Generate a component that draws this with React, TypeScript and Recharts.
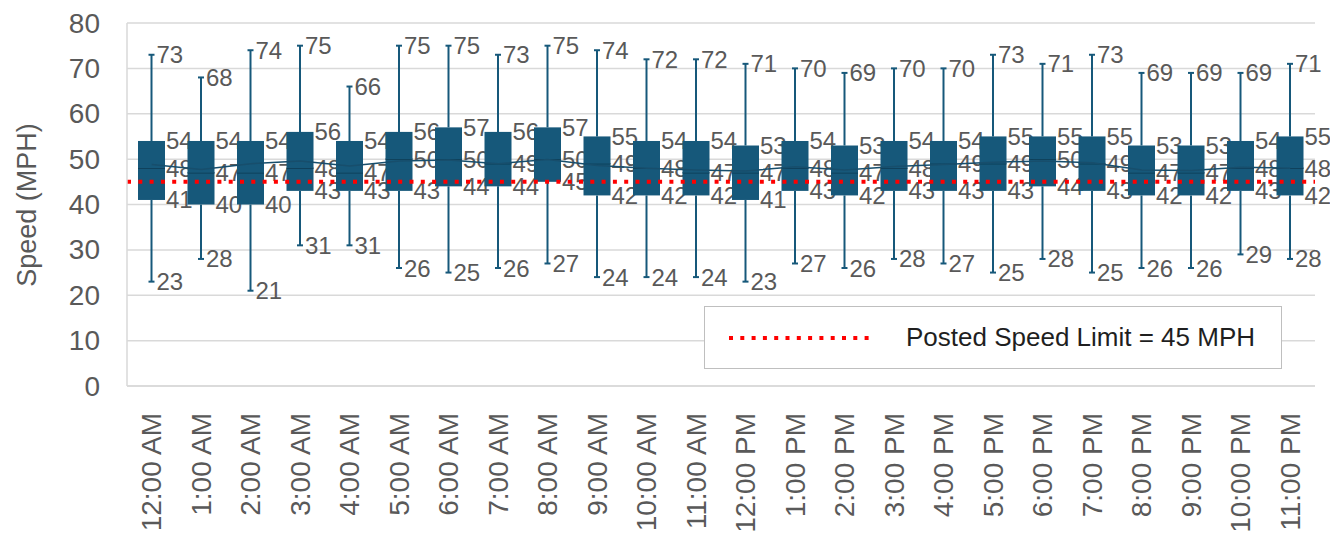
import {
  Bar,
  CartesianGrid,
  ComposedChart,
  Line,
  ReferenceLine,
  XAxis,
  YAxis,
} from 'recharts'

const hours = [
  '12:00 AM', '1:00 AM', '2:00 AM', '3:00 AM', '4:00 AM', '5:00 AM',
  '6:00 AM', '7:00 AM', '8:00 AM', '9:00 AM', '10:00 AM', '11:00 AM',
  '12:00 PM', '1:00 PM', '2:00 PM', '3:00 PM', '4:00 PM', '5:00 PM',
  '6:00 PM', '7:00 PM', '8:00 PM', '9:00 PM', '10:00 PM', '11:00 PM',
]
const minSpeed = [23, 28, 21, 31, 31, 26, 25, 26, 27, 24, 24, 24, 23, 27, 26, 28, 27, 25, 28, 25, 26, 26, 29, 28]
const q1Speed = [41, 40, 40, 43, 43, 43, 44, 44, 45, 42, 42, 42, 41, 43, 42, 43, 43, 43, 44, 43, 42, 42, 43, 42]
const medianSpeed = [48, 47, 47, 48, 47, 50, 50, 49, 50, 49, 48, 47, 47, 48, 47, 48, 49, 49, 50, 49, 47, 47, 48, 48]
const q3Speed = [54, 54, 54, 56, 54, 56, 57, 56, 57, 55, 54, 54, 53, 54, 53, 54, 54, 55, 55, 55, 53, 53, 54, 55]
const maxSpeed = [73, 68, 74, 75, 66, 75, 75, 73, 75, 74, 72, 72, 71, 70, 69, 70, 70, 73, 71, 73, 69, 69, 69, 71]
// mean line
const meanSpeed = [48.8, 47.7, 49.0, 49.6, 48.5, 49.6, 49.8, 49.0, 49.9, 48.6, 48.0, 47.6, 47.4, 48.3, 47.6, 48.4, 48.8, 49.3, 49.6, 49.2, 47.6, 47.5, 48.2, 48.0]
const speedLimit = 45
const yTicks = [0, 10, 20, 30, 40, 50, 60, 70, 80]

const data = hours.map((hour, i) => ({
  hour,
  min: minSpeed[i],
  q1: q1Speed[i],
  median: medianSpeed[i],
  q3: q3Speed[i],
  max: maxSpeed[i],
  mean: meanSpeed[i],
  base: minSpeed[i],
  lowWhisker: q1Speed[i] - minSpeed[i],
  boxLow: medianSpeed[i] - q1Speed[i],
  boxHigh: q3Speed[i] - medianSpeed[i],
  highWhisker: maxSpeed[i] - q3Speed[i],
}))

const FONT = '"Liberation Sans", Arial, sans-serif'
const BOX = '#16587a'
const MEDIAN = '#0c3a52'
const GREY = '#595959'
const LIMIT = '#ff0000'

function ValueText({ x, y, value }: { x: number; y: number; value: number }) {
  return (
    <text x={x} y={y} dominantBaseline="central" fontFamily={FONT} fontSize={24} fill={GREY}>
      {value}
    </text>
  )
}

function LowWhisker(props: any) {
  const { x, y, width, height, payload } = props
  const cx = x + width / 2
  return (
    <g>
      <line x1={cx} y1={y} x2={cx} y2={y + height} stroke={BOX} strokeWidth={2} />
      <line x1={cx - 3} y1={y + height} x2={cx + 3} y2={y + height} stroke={BOX} strokeWidth={2} />
      <ValueText x={cx + 5} y={y + height} value={payload.min} />
    </g>
  )
}

function HighWhisker(props: any) {
  const { x, y, width, height, payload } = props
  const cx = x + width / 2
  return (
    <g>
      <line x1={cx} y1={y} x2={cx} y2={y + height} stroke={BOX} strokeWidth={2} />
      <line x1={cx - 3} y1={y} x2={cx + 3} y2={y} stroke={BOX} strokeWidth={2} />
      <ValueText x={cx + 5} y={y} value={payload.max} />
    </g>
  )
}

function BoxLow(props: any) {
  const { x, y, width, height, payload } = props
  return (
    <g>
      <rect x={x} y={y} width={width} height={height} fill={BOX} />
      <line x1={x} y1={y} x2={x + width} y2={y} stroke={MEDIAN} strokeWidth={1.5} />
      <ValueText x={x + width + 1} y={y} value={payload.median} />
      <ValueText x={x + width + 1} y={y + height} value={payload.q1} />
    </g>
  )
}

function BoxHigh(props: any) {
  const { x, y, width, height, payload } = props
  return (
    <g>
      <rect x={x} y={y} width={width} height={height} fill={BOX} />
      <ValueText x={x + width + 1} y={y} value={payload.q3} />
    </g>
  )
}

function HourTick({ x, y, payload }: any) {
  return (
    <g transform={`translate(${x},${y})`}>
      <text
        transform="rotate(-90)"
        textAnchor="end"
        dominantBaseline="central"
        fontFamily={FONT}
        fontSize={28}
        fill={GREY}
      >
        {payload.value}
      </text>
    </g>
  )
}

function SpeedTick({ x, y, payload }: any) {
  return (
    <text x={x} y={y} textAnchor="end" dominantBaseline="central" fontFamily={FONT} fontSize={28} fill={GREY}>
      {payload.value}
    </text>
  )
}

// legend box sits over the plot area, like the original
function LimitLegend() {
  return (
    <div
      style={{
        position: 'absolute',
        left: 704,
        top: 306,
        width: 578,
        height: 63,
        boxSizing: 'border-box',
        border: '1.5px solid #bfbfbf',
        background: '#fff',
        display: 'flex',
        alignItems: 'center',
      }}
    >
      <svg width={190} height={20} style={{ marginLeft: 22 }}>
        <line x1={2} y1={10} x2={146} y2={10} stroke={LIMIT} strokeWidth={4} strokeDasharray="4 7.3" />
      </svg>
      <span style={{ fontFamily: FONT, fontSize: 26, color: '#1f1f1f', marginLeft: -11 }}>
        Posted Speed Limit = {speedLimit} MPH
      </span>
    </div>
  )
}

export default function App() {
  return (
    <div style={{ position: 'absolute', left: 0, top: 0, width: 1330, height: 541, background: '#fff' }}>
      <ComposedChart
        width={1330}
        height={541}
        data={data}
        margin={{ top: 23, right: 15, bottom: 0, left: 0 }}
        barCategoryGap={0}
      >
        <CartesianGrid vertical={false} stroke="#d9d9d9" strokeWidth={1.5} />
        <XAxis
          dataKey="hour"
          interval={0}
          height={155}
          axisLine={{ stroke: '#d9d9d9', strokeWidth: 1.5 }}
          tickLine={false}
          tickMargin={21}
          tick={<HourTick />}
        />
        <YAxis
          domain={[0, 80]}
          ticks={yTicks}
          width={127}
          axisLine={{ stroke: '#d9d9d9', strokeWidth: 1.5 }}
          tickLine={false}
          tickMargin={21}
          tick={<SpeedTick />}
          label={() => (
            <text
              transform="translate(27,205) rotate(-90)"
              textAnchor="middle"
              dominantBaseline="central"
              fontFamily={FONT}
              fontSize={27}
              fill={GREY}
            >
              Speed (MPH)
            </text>
          )}
        />
        <Bar dataKey="base" stackId="box" barSize={27} fill="none" isAnimationActive={false} shape={() => <g />} />
        <Bar dataKey="lowWhisker" stackId="box" barSize={27} isAnimationActive={false} shape={<LowWhisker />} />
        <Bar dataKey="boxLow" stackId="box" barSize={27} isAnimationActive={false} shape={<BoxLow />} />
        <Bar dataKey="boxHigh" stackId="box" barSize={27} isAnimationActive={false} shape={<BoxHigh />} />
        <Bar dataKey="highWhisker" stackId="box" barSize={27} isAnimationActive={false} shape={<HighWhisker />} />
        <Line
          type="linear"
          dataKey="mean"
          stroke="#174e6c"
          strokeWidth={1.5}
          dot={false}
          activeDot={false}
          isAnimationActive={false}
        />
        <ReferenceLine y={speedLimit} stroke={LIMIT} strokeWidth={4} strokeDasharray="4 7.3" />
      </ComposedChart>
      <LimitLegend />
    </div>
  )
}
